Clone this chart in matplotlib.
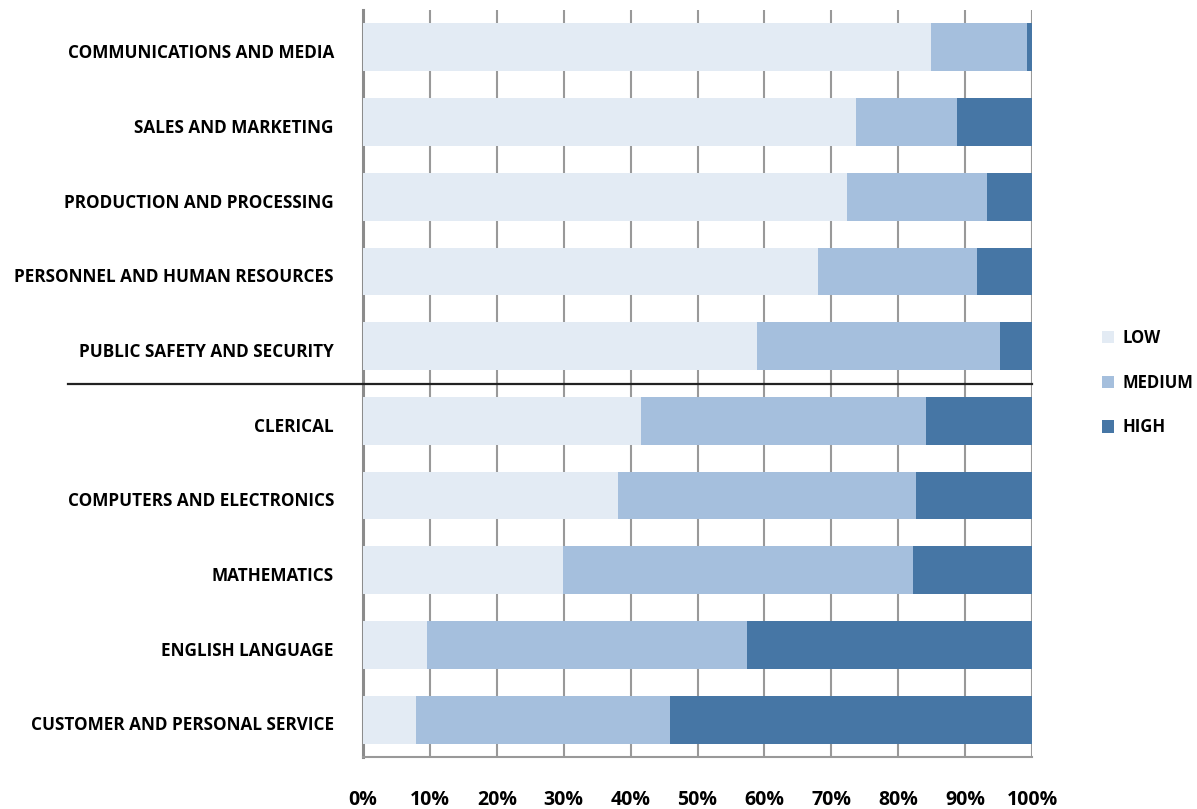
import matplotlib
matplotlib.use("Agg")
import matplotlib.pyplot as plt
import matplotlib.transforms as mtransforms
from matplotlib.patches import Patch
import numpy as np

plt.rcParams["font.family"] = ["Open Sans", "DejaVu Sans"]
plt.rcParams["font.weight"] = "bold"

categories = ["COMMUNICATIONS AND MEDIA", "SALES AND MARKETING",
              "PRODUCTION AND PROCESSING", "PERSONNEL AND HUMAN RESOURCES",
              "PUBLIC SAFETY AND SECURITY", "CLERICAL",
              "COMPUTERS AND ELECTRONICS", "MATHEMATICS", "ENGLISH LANGUAGE",
              "CUSTOMER AND PERSONAL SERVICE"]
low = [84.9, 73.7, 72.3, 68.0, 58.9, 41.5, 38.1, 29.9, 9.6, 7.9]
medium = [14.4, 15.1, 21.0, 23.8, 36.3, 42.6, 44.6, 52.3, 47.8, 38.0]
high = [0.7, 11.2, 6.7, 8.2, 4.8, 15.9, 17.3, 17.8, 42.6, 54.1]
xticks = [0, 10, 20, 30, 40, 50, 60, 70, 80, 90, 100]
series_names = ["LOW", "MEDIUM", "HIGH"]
colors = ["#E3EBF4", "#A5BFDD", "#4676A5"]

fig = plt.figure(figsize=(11.97, 8.09), dpi=100)
ax = fig.add_axes([0.3033, 0.0643, 0.5589, 0.9233])

y = np.arange(len(categories))
left = np.zeros(len(categories))
for vals, name, col in zip([low, medium, high], series_names, colors):
    ax.barh(y, vals, left=left, height=0.64, color=col, label=name, zorder=3)
    left = left + np.array(vals)

ax.set_xlim(0, 100)
ax.set_ylim(9.5, -0.5)
ax.set_yticks(y + 0.05)
ax.set_yticklabels(categories, fontsize=12.3, fontweight="bold")
ax.set_xticks(xticks)
ax.set_xticklabels(["{}%".format(t) for t in xticks], fontsize=14,
                   fontweight="bold")
ax.tick_params(axis="y", length=0, pad=21)
ax.tick_params(axis="x", length=0, pad=24)

for t in xticks[1:]:
    ax.axvline(t, color="#999999", linewidth=1.5, zorder=1)

for side in ["top", "right"]:
    ax.spines[side].set_visible(False)
ax.spines["left"].set_color("#8c8c8c")
ax.spines["left"].set_linewidth(2.2)
ax.spines["bottom"].set_color("#999999")
ax.spines["bottom"].set_linewidth(1.5)

# separator between the two groups
trans = mtransforms.blended_transform_factory(ax.transAxes, ax.transData)
ax.plot([-0.441, 1.0], [4.5, 4.5], color="#222222", linewidth=1.6,
        transform=trans, clip_on=False, zorder=5)

handles = [Patch(facecolor=c, edgecolor="none") for c in colors]
fig.legend(handles, series_names, loc="center left",
           bbox_to_anchor=(0.908, 0.527), frameon=False,
           prop={"size": 12, "weight": "bold"},
           handlelength=0.75, handleheight=0.75, handletextpad=0.5,
           labelspacing=1.6)

plt.savefig("out.png", dpi=100)
plt.close()
